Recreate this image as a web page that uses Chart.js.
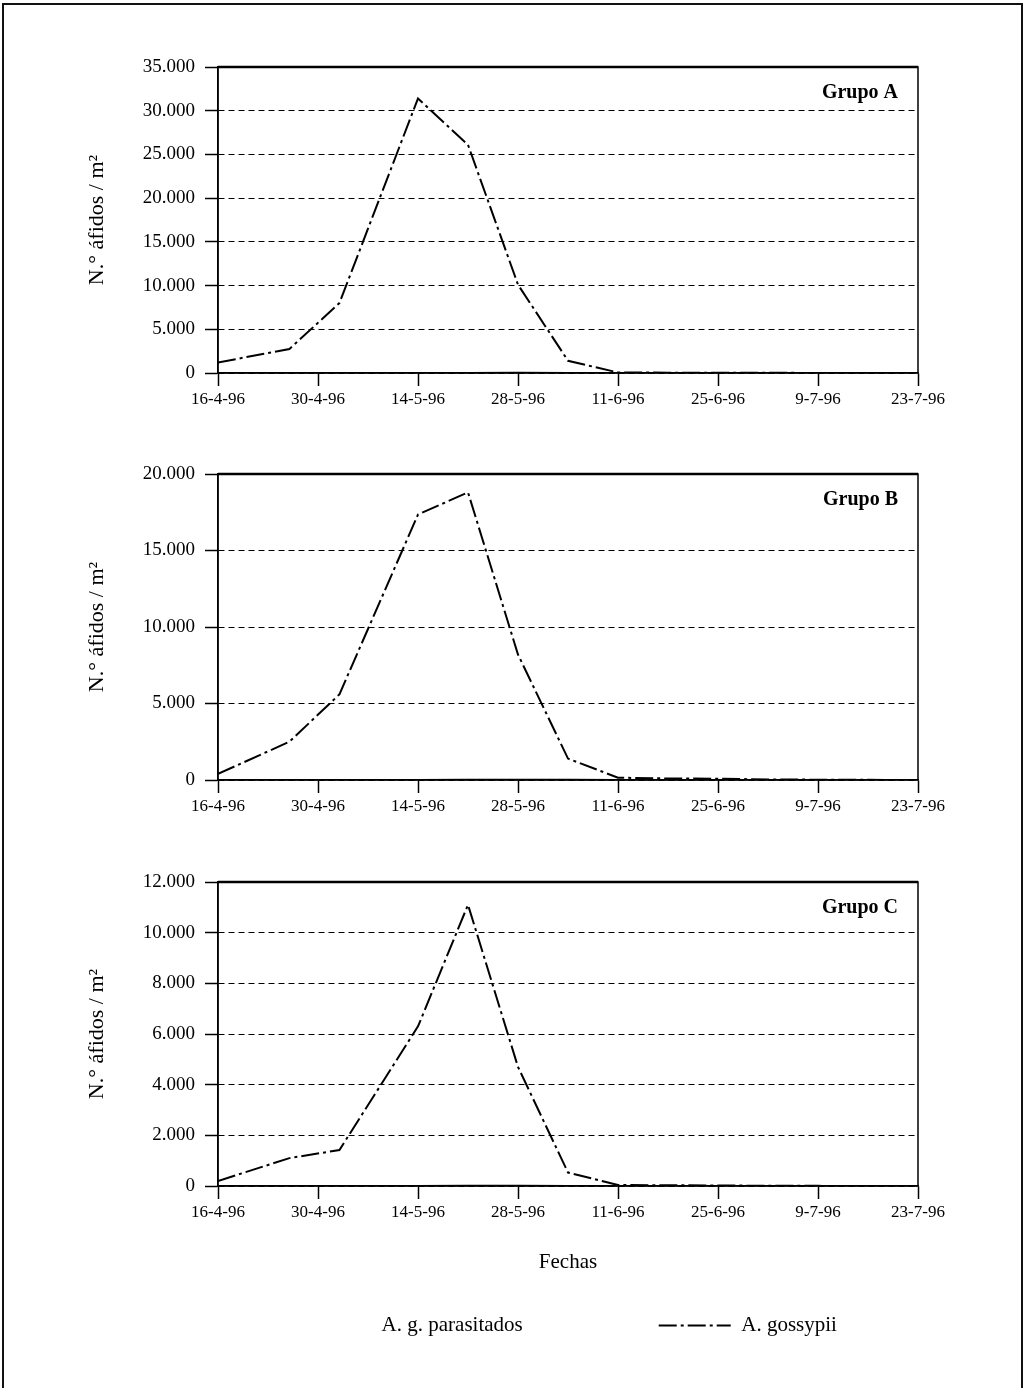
<!DOCTYPE html>
<html>
<head>
<meta charset="utf-8">
<script src="https://cdn.jsdelivr.net/npm/chart.js@4.4.1/dist/chart.umd.min.js"></script>
<style>
  html, body { margin: 0; padding: 0; background: #fff; }
  #page { position: relative; width: 1027px; height: 1388px; overflow: hidden; }
  #frame { position: absolute; left: 2px; top: 3px; width: 1017px; height: 1420px; border: 2px solid #111; }
  .box { position: absolute; left: 0; width: 1027px; }
</style>
</head>
<body>
<div id="page">
  <div id="frame"></div>
  <div class="box" style="top:40px;height:380px"><canvas id="chartA"></canvas></div>
  <div class="box" style="top:440px;height:380px"><canvas id="chartB"></canvas></div>
  <div class="box" style="top:850px;height:538px"><canvas id="chartC"></canvas></div>
</div>
<script>
// días desde el 16-4-96
const dias = [0, 10, 17, 28, 35, 42, 49, 56, 63, 70, 77, 84, 91, 98];
const etiquetasX = ['16-4-96', '30-4-96', '14-5-96', '28-5-96', '11-6-96', '25-6-96', '9-7-96', '23-7-96'];

// Grupo A
const gossypiiA    = [1200, 2750, 8000, 31400, 26100, 10100, 1400, 60, 40, 30, 20, 10, 5, 0];
const parasitadosA = [0, 0, 5, 20, 40, 50, 30, 15, 5, 0, 0, 0, 0, 0];
// Grupo B
const gossypiiB    = [400, 2500, 5600, 17350, 18800, 8200, 1400, 150, 100, 80, 40, 20, 10, 0];
const parasitadosB = [0, 0, 5, 15, 30, 40, 25, 10, 5, 0, 0, 0, 0, 0];
// Grupo C
const gossypiiC    = [200, 1100, 1420, 6300, 11100, 4700, 530, 40, 30, 20, 10, 5, 0, 0];
const parasitadosC = [0, 0, 2, 8, 15, 20, 12, 5, 2, 0, 0, 0, 0, 0];

const serif = "'Liberation Serif', 'Times New Roman', serif";
Chart.defaults.color = '#000';
Chart.defaults.font.family = serif;

const puntos = (vals) => vals.map((v, i) => ({ x: dias[i], y: v }));
const miles = (v) => String(v).replace(/\B(?=(\d{3})+(?!\d))/g, '.');

// marco del área y rótulo del grupo
const marco = {
  id: 'marco',
  afterDraw(chart, args, opts) {
    const ctx = chart.ctx;
    const a = chart.chartArea;
    ctx.save();
    ctx.setLineDash([]);
    ctx.strokeStyle = '#000';
    ctx.lineWidth = 1.5;
    ctx.strokeRect(a.left, a.top, a.right - a.left, a.bottom - a.top);
    ctx.lineWidth = 2.5;
    ctx.beginPath();
    ctx.moveTo(a.left, a.top);
    ctx.lineTo(a.right, a.top);
    ctx.stroke();
    ctx.font = 'bold 20px ' + serif;
    ctx.fillStyle = '#000';
    ctx.textAlign = 'right';
    ctx.textBaseline = 'alphabetic';
    ctx.fillText(opts.texto, a.right - 20, a.top + 31);
    ctx.restore();
  }
};

function hacerGrafico(id, gossypii, parasitados, maxY, paso, grupo, conf) {
  const ctx = document.getElementById(id);
  return new Chart(ctx, {
    type: 'line',
    data: {
      datasets: [
        {
          label: 'A. g. parasitados',
          data: puntos(parasitados),
          borderColor: '#000',
          borderWidth: 1.5,
          pointRadius: 0,
          tension: 0
        },
        {
          label: 'A. gossypii',
          data: puntos(gossypii),
          borderColor: '#000',
          borderWidth: 2,
          borderDash: [18, 4, 3, 4],
          pointRadius: 0,
          tension: 0
        }
      ]
    },
    options: {
      responsive: true,
      maintainAspectRatio: false,
      animation: false,
      layout: { padding: { top: conf.top, right: 109, bottom: conf.bottom, left: 0 } },
      plugins: {
        tooltip: { enabled: false },
        marco: { texto: grupo },
        legend: {
          display: conf.leyenda,
          position: 'bottom',
          fullSize: false,
          labels: {
            usePointStyle: true,
            pointStyleWidth: 72,
            padding: 10,
            font: { size: 21, family: serif },
            color: '#000',
            generateLabels: () => [
              { text: 'A. g. parasitados' + '\u2003'.repeat(6), pointStyle: 'line', strokeStyle: 'rgba(0,0,0,0)', fillStyle: 'rgba(0,0,0,0)', lineWidth: 0, datasetIndex: 0 },
              { text: 'A. gossypii', pointStyle: 'line', strokeStyle: '#000', fillStyle: 'rgba(0,0,0,0)', lineWidth: 2, lineDash: [18, 4, 3, 4], datasetIndex: 1 }
            ]
          }
        }
      },
      scales: {
        x: {
          type: 'linear',
          min: 0,
          max: 98,
          afterFit: (s) => { s.height = conf.xAlto; },
          ticks: {
            stepSize: 14,
            autoSkip: false,
            maxRotation: 0,
            padding: 3,
            font: { size: 17, family: serif },
            callback: (v) => etiquetasX[Math.round(v / 14)]
          },
          grid: { drawOnChartArea: false, drawTicks: true, tickLength: 13, tickColor: '#000', tickWidth: 1.5 },
          border: { color: '#000', width: 1.5 },
          title: {
            display: conf.titulo,
            text: 'Fechas',
            font: { size: 21, family: serif },
            padding: { top: 0, bottom: 30 }
          }
        },
        y: {
          min: 0,
          max: maxY,
          afterFit: (s) => { s.width = 218; },
          ticks: {
            stepSize: paso,
            padding: 10,
            font: { size: 19, family: serif },
            callback: (v) => miles(v)
          },
          grid: { color: '#000', lineWidth: 1, tickLength: 13, tickColor: '#000', tickWidth: 1.5, tickBorderDash: [] },
          border: { color: '#000', width: 1.5, dash: [6, 4] },
          title: {
            display: true,
            text: 'N.° áfidos / m²',
            font: { size: 22, family: serif },
            padding: { top: 84, bottom: 0 }
          }
        }
      }
    },
    plugins: [marco]
  });
}

hacerGrafico('chartA', gossypiiA, parasitadosA, 35000, 5000, 'Grupo A', { top: 27, bottom: 0, xAlto: 47, leyenda: false, titulo: false });
hacerGrafico('chartB', gossypiiB, parasitadosB, 20000, 5000, 'Grupo B', { top: 34, bottom: 0, xAlto: 40, leyenda: false, titulo: false });
hacerGrafico('chartC', gossypiiC, parasitadosC, 12000, 2000, 'Grupo C', { top: 32, bottom: 42, xAlto: 119, leyenda: true, titulo: true });
</script>
</body>
</html>
